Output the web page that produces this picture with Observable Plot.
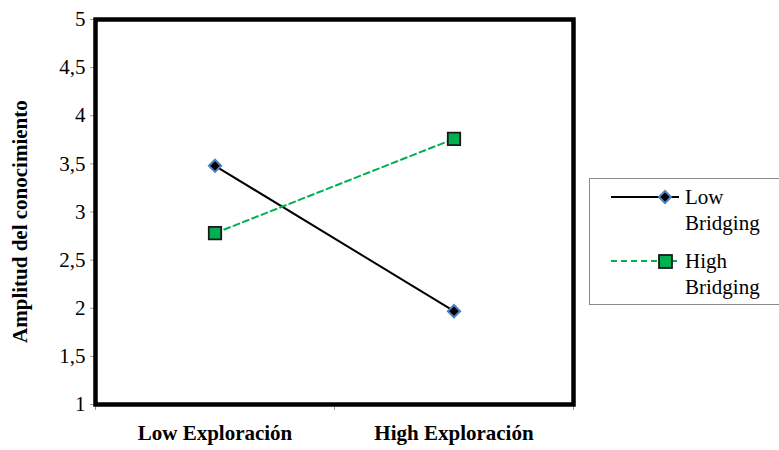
<!DOCTYPE html>
<html>
<head>
<meta charset="utf-8">
<script src="https://cdn.jsdelivr.net/npm/d3@7"></script>
<script src="https://cdn.jsdelivr.net/npm/@observablehq/plot@0.6"></script>
<style>
  body { margin: 0; background: #fff; }
  #wrap { position: relative; width: 779px; height: 450px; }
  #legend { position: absolute; left: 589px; top: 178px; width: 200px; height: 127px; border: 1px solid #8a8a8a; box-sizing: border-box; background: #fff; }
  .item { position: absolute; left: 0; width: 200px; }
  .item svg { position: absolute; left: 20px; top: 0; }
  .item .lab { position: absolute; left: 95px; top: 0; font-size: 21px; line-height: 26px; color: #000; }
</style>
</head>
<body>
<div id="wrap" style="font-family:'Liberation Serif','Times New Roman',serif">
  <div id="chart"></div>
  <div id="legend"></div>
</div>
<script>
const categories = ["Low Exploraci\u00f3n", "High Exploraci\u00f3n"];
const seriesNames = ["Low Bridging", "High Bridging"];
const lowBridging = [3.48, 1.97];
const highBridging = [2.78, 3.76];
const yTicks = [1, 1.5, 2, 2.5, 3, 3.5, 4, 4.5, 5];
const yTitle = "Amplitud del conocimiento";

const blue = "#4f81bd";
const green = "#00b050";
const serifFont = "Liberation Serif";

const data = [];
categories.forEach((c, i) => {
  data.push({cat: c, pos: i + 0.5, series: seriesNames[0], value: lowBridging[i]});
  data.push({cat: c, pos: i + 0.5, series: seriesNames[1], value: highBridging[i]});
});
const low = data.filter(d => d.series === seriesNames[0]);
const high = data.filter(d => d.series === seriesNames[1]);
const catLabels = categories.map((c, i) => ({cat: c, pos: i + 0.5}));
const bounds = d3.range(categories.length + 1);

const fmt = v => String(v).replace(".", ",");

const chart = Plot.plot({
  width: 779,
  height: 450,
  marginLeft: 95,
  marginRight: 206,
  marginTop: 19,
  marginBottom: 46,
  style: {fontFamily: serifFont, fontSize: "21px", color: "#000", background: "#fff"},
  x: {domain: [0, categories.length]},
  y: {domain: [1, 5]},
  marks: [
    Plot.axisY({ticks: yTicks, tickFormat: fmt, tickSize: 5, tickPadding: 5, stroke: "#9a9a9a", fill: "#000", fontSize: 21, fontFamily: serifFont, label: null}),
    Plot.axisX({ticks: bounds, tickFormat: () => "", tickSize: 6, stroke: "#9a9a9a", label: null}),
    Plot.text(catLabels, {x: "pos", text: "cat", frameAnchor: "bottom", dy: 35, fontWeight: "bold", fontSize: 21, fontFamily: serifFont}),
    Plot.text([yTitle], {x: 0, y: 2.9, text: d => d, rotate: -90, dx: -75, fontWeight: "bold", fontSize: 21, fontFamily: serifFont}),
    Plot.frame({stroke: "#000", strokeWidth: 4.5}),
    Plot.line(low, {x: "pos", y: "value", stroke: "#000", strokeWidth: 2}),
    Plot.line(high, {x: "pos", y: "value", stroke: green, strokeWidth: 2, strokeDasharray: "6,4"}),
    Plot.dot(low, {x: "pos", y: "value", symbol: "diamond2", r: 5.5, fill: "#000", stroke: blue, strokeWidth: 2}),
    Plot.dot(high, {x: "pos", y: "value", symbol: "square", r: 7, fill: green, stroke: "#1a1a1a", strokeWidth: 1.8})
  ]
});
document.getElementById("chart").appendChild(chart);

const legend = document.getElementById("legend");
const items = [
  {name: seriesNames[0], line: "#000", dash: null, marker: "diamond", top: 5},
  {name: seriesNames[1], line: green, dash: "6,4", marker: "square", top: 69}
];
items.forEach(it => {
  const div = document.createElement("div");
  div.className = "item";
  div.style.top = it.top + "px";
  const parts = it.name.split(" ");
  let mk;
  if (it.marker === "diamond") {
    mk = `<path d="M55,7 L61,13 L55,19 L49,13 Z" fill="#000" stroke="${blue}" stroke-width="2"/>`;
  } else {
    mk = `<rect x="49" y="7" width="13" height="13" fill="${green}" stroke="#1a1a1a" stroke-width="1.8"/>`;
  }
  div.innerHTML = `<svg width="72" height="26"><line x1="1" x2="69" y1="13" y2="13" stroke="${it.line}" stroke-width="2" ${it.dash ? `stroke-dasharray="${it.dash}"` : ""}/>${mk}</svg>
    <div class="lab">${parts[0]}<br>${parts[1]}</div>`;
  legend.appendChild(div);
});
</script>
</body>
</html>
